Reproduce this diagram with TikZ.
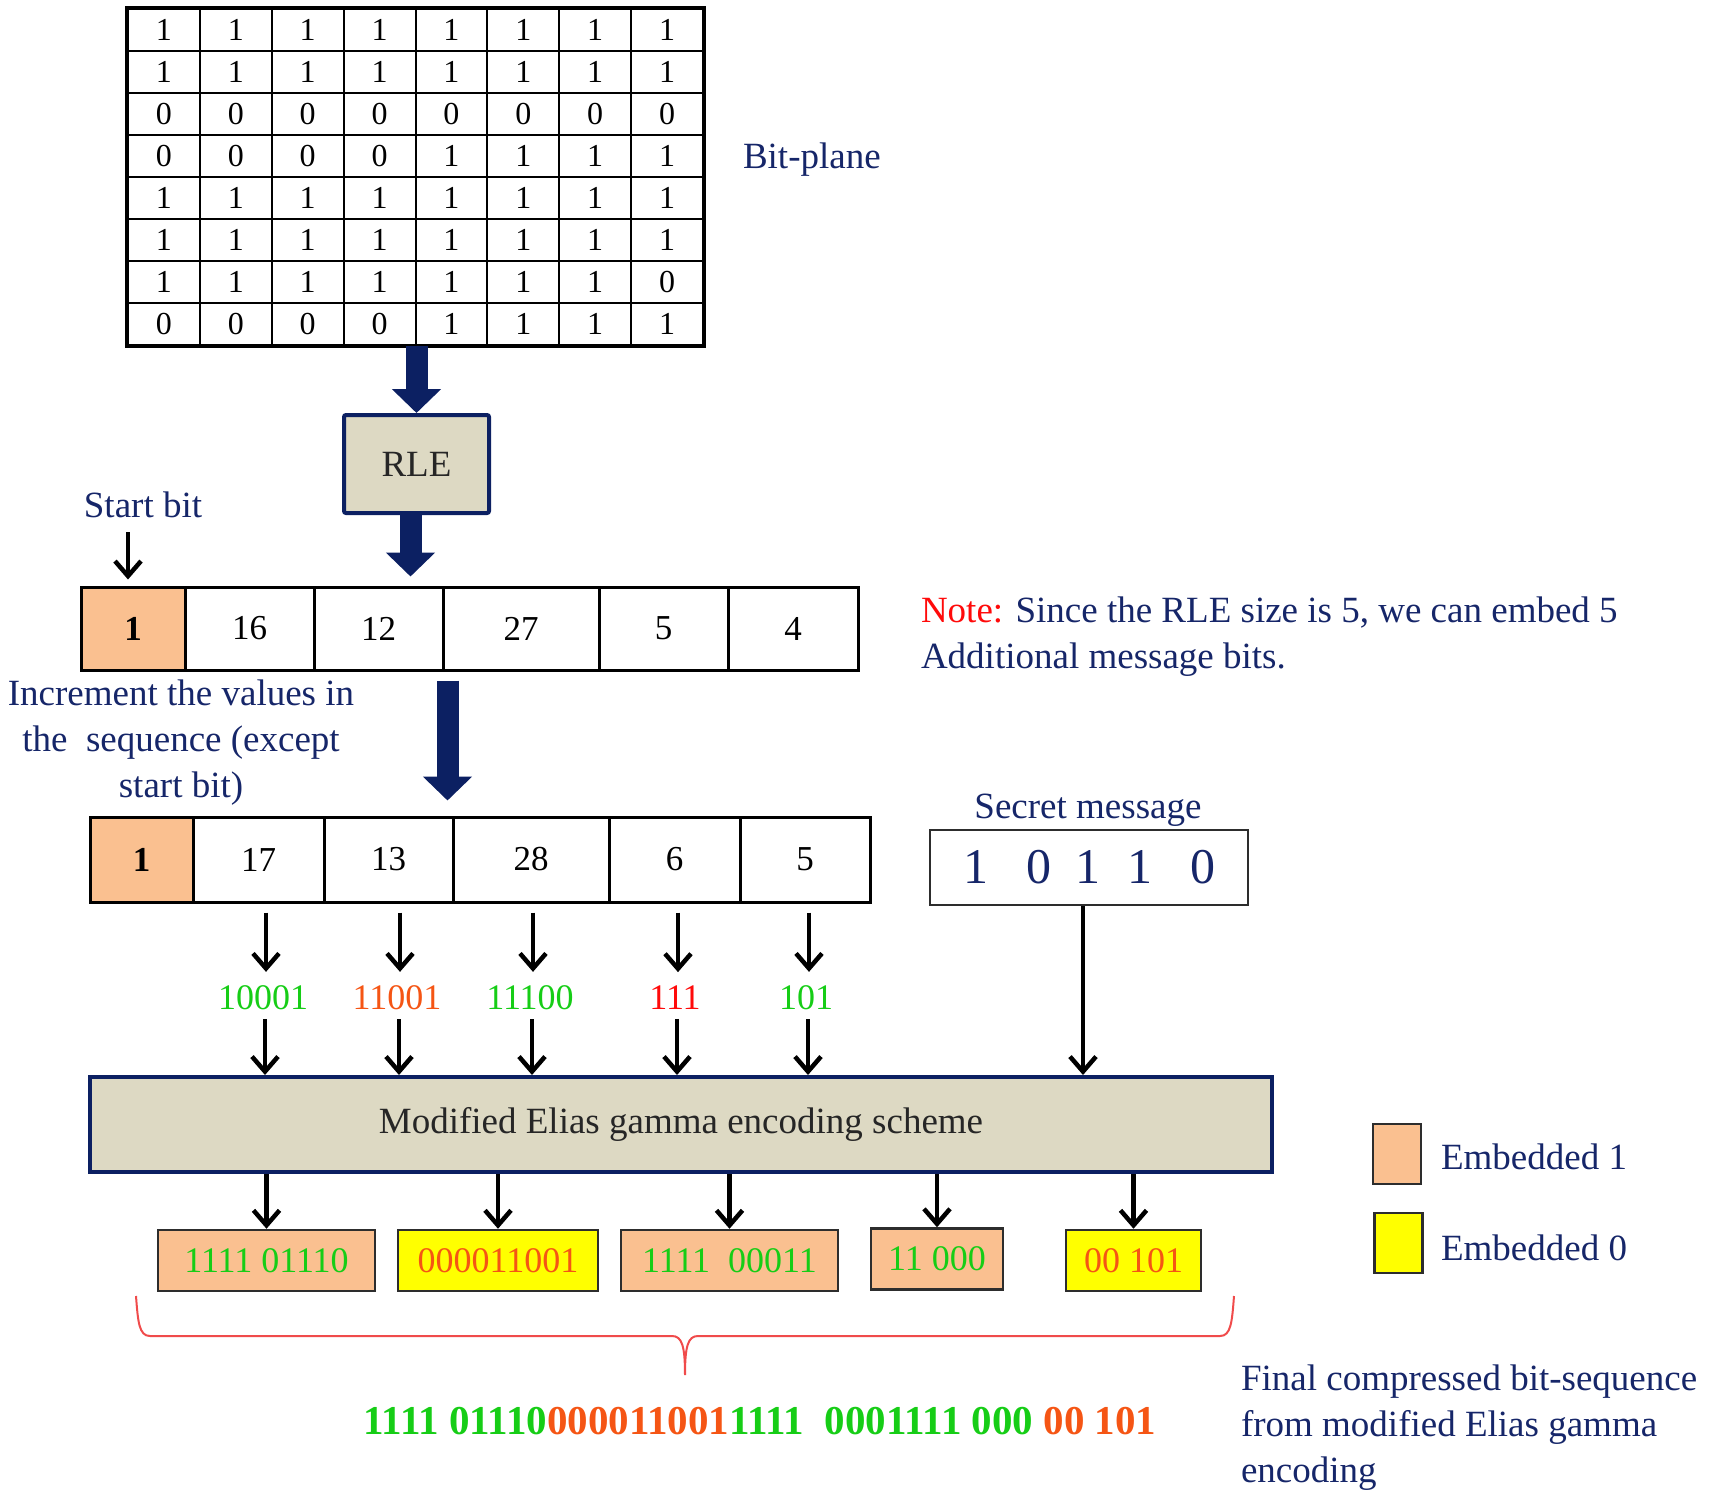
\documentclass[tikz,border=0pt]{standalone}
\usepackage{fontspec}
\setmainfont{Liberation Serif}
\usetikzlibrary{arrows.meta,calc}
\definecolor{navy}{RGB}{12,32,98}
\definecolor{txtblue}{RGB}{22,38,105}
\definecolor{beige}{RGB}{221,217,195}
\definecolor{peach}{RGB}{250,192,144}
\definecolor{yel}{RGB}{255,255,0}
\definecolor{grn}{RGB}{22,205,22}
\definecolor{org}{RGB}{245,85,20}
\definecolor{redtxt}{RGB}{255,10,10}
\definecolor{bracecol}{RGB}{240,75,75}
\definecolor{boxline}{RGB}{45,45,45}
\tikzset{
  txt/.style={inner sep=0pt, outer sep=0pt, text=txtblue, font=\fontsize{37}{46}\selectfont},
  gcell/.style={draw, line width=2pt, minimum width=71.875pt, minimum height=42pt, inner sep=0pt, font=\fontsize{32}{36}\selectfont},
  scell/.style={draw, line width=3pt, inner sep=0pt, font=\fontsize{35}{40}\selectfont},
  procbox/.style={draw=navy, line width=4pt, fill=beige, rounded corners=2pt, inner sep=0pt, text=black!85, font=\fontsize{37}{46}\selectfont},
  bigarrow/.style={draw=navy, line width=22pt, -{Triangle[length=24pt,width=48pt]}},
  blk/.style={draw=black, line width=4.5pt, -{Straight Barb[length=15pt,width=26pt]}},
  bitlbl/.style={inner sep=0pt, outer sep=0pt, font=\fontsize{36}{40}\selectfont},
  outbox/.style={draw=boxline, line width=2.5pt, inner sep=0pt, minimum height=61pt, font=\fontsize{36}{40}\selectfont},
  legbox/.style={draw=boxline, line width=2.5pt, inner sep=0pt, minimum width=48pt, minimum height=60pt}
}
\begin{document}
\begin{tikzpicture}[x=1pt,y=-1pt]
\useasboundingbox (0,0) rectangle (1714,1499);

% bit-plane grid
\foreach \row [count=\r] in {{1,1,1,1,1,1,1,1},{1,1,1,1,1,1,1,1},{0,0,0,0,0,0,0,0},{0,0,0,0,1,1,1,1},{1,1,1,1,1,1,1,1},{1,1,1,1,1,1,1,1},{1,1,1,1,1,1,1,0},{0,0,0,0,1,1,1,1}}{
  \foreach \v [count=\c] in \row {
    \node[gcell] (g-\r-\c) at ({128+71.875*(\c-0.5)},{9+42*(\r-0.5)}) {\v};
  }
}
\draw[line width=4pt] (g-1-1.north west) rectangle (g-8-8.south east);
\node[txt, anchor=west] (bitplane) at (743,160) {Bit-plane};

% RLE
\node[procbox, minimum width=145pt, minimum height=98pt] (rle) at (416.5,464) {RLE};
\draw[bigarrow] (g-8-4.south east) -- (rle.north);

% first sequence
\node[scell, fill=peach, minimum width=104pt, minimum height=83pt] (s1-1) at (133,628.5) {\textbf{1}};
\foreach \l/\rr/\v [count=\i from 2] in {185/314/16,314/443/12,443/599/27,599/728/5,728/858/4}{
  \pgfmathsetmacro\w{\rr-\l}
  \pgfmathsetmacro\xc{(\l+\rr)/2}
  \node[scell, minimum width=\w pt, minimum height=83pt] (s1-\i) at (\xc,628.5) {\v};
}
\draw[bigarrow, shorten >=9pt] ([xshift=-6pt]rle.south) -- ([xshift=-6pt]rle.south |- s1-3.north);

% start bit
\node[txt] (startlbl) at (143,505) {Start bit};
\coordinate (sbtop) at (128,532);
\draw[blk, shorten >=6pt] (sbtop) -- (sbtop |- s1-1.north);

% increment note
\node[txt, align=center] (incr) at (181,743) {Increment the values in\\the\ \ sequence (except\\start bit)};

% second sequence
\node[scell, fill=peach, minimum width=103pt, minimum height=85pt] (s2-1) at (141.5,859.5) {\textbf{1}};
\foreach \l/\rr/\v [count=\i from 2] in {193/324/17,324/453/13,453/609/28,609/740/6,740/870/5}{
  \pgfmathsetmacro\w{\rr-\l}
  \pgfmathsetmacro\xc{(\l+\rr)/2}
  \node[scell, minimum width=\w pt, minimum height=85pt] (s2-\i) at (\xc,859.5) {\v};
}
\draw[bigarrow, shorten <=9pt, shorten >=15pt] ([xshift=6pt]s1-4.south west) -- ([xshift=6pt]s1-4.south west |- s2-4.north);

% RLE-size note
\node[txt, align=left, anchor=west] (note) at (921,637) {\textcolor{redtxt}{Note:} Since the RLE size is 5, we can embed 5\\Additional message bits.};

% secret message
\node[txt] (seclbl) at (1088,810) {Secret message};
\node[draw=boxline, line width=2pt, minimum width=318pt, minimum height=75pt, inner sep=0pt, text=txtblue, font=\fontsize{50}{56}\selectfont] (sec) at (1089,867.5) {1\hspace{38pt}0\hspace{24pt}1\hspace{27pt}1\hspace{38pt}0};

% Elias box
\node[procbox, rounded corners=0pt, minimum width=1182pt, minimum height=95pt] (elias) at (681,1124.5) {Modified Elias gamma encoding scheme};

% binary labels
\node[bitlbl, text=grn] (b2) at (263,998) {10001};
\node[bitlbl, text=org] (b3) at (397,998) {11001};
\node[bitlbl, text=grn] (b4) at (530,998) {11100};
\node[bitlbl, text=redtxt] (b5) at (675,998) {111};
\node[bitlbl, text=grn] (b6) at (806,998) {101};
\foreach \k in {2,...,6}{
  \draw[blk, shorten <=9pt, shorten >=14pt] ([xshift=3pt]b\k.north |- s2-\k.south) -- ([xshift=3pt]b\k.north);
  \draw[blk, shorten <=9pt] ([xshift=2pt]b\k.south) -- ([xshift=2pt]b\k.south |- elias.north);
}
\draw[blk] ([xshift=-6pt]sec.south) -- ([xshift=-6pt]sec.south |- elias.north);

% output boxes
\node[outbox, fill=peach, text=grn, minimum width=217pt] (o1) at (266.5,1260.5) {1111 01110};
\node[outbox, fill=yel, text=org, minimum width=200pt] (o2) at (498,1260.5) {000011001};
\node[outbox, fill=peach, text=grn, minimum width=217pt] (o3) at (729.5,1260.5) {1111\ \ 00011};
\node[outbox, fill=peach, text=grn, minimum width=132pt] (o4) at (937,1259) {11 000};
\node[outbox, fill=yel, text=org, minimum width=135pt] (o5) at (1133.5,1260.5) {00 101};
\foreach \k in {1,...,5}{
  \draw[blk] (o\k.north |- elias.south) -- (o\k.north);
}

% brace
\draw[bracecol, line width=2pt] (136,1296) .. controls (138,1322) and (139,1336) .. (150,1336) -- (672,1336) .. controls (682,1336) and (685,1346) .. (685,1375) .. controls (685,1346) and (688,1336) .. (698,1336) -- (1220,1336) .. controls (1231,1336) and (1232,1322) .. (1234,1296);

% final bit sequence
\node[bitlbl, font=\fontsize{41}{46}\selectfont\bfseries] (final) at (760,1421) {\textcolor{grn}{1111 01110}\textcolor{org}{000011001}\textcolor{grn}{1111\ \ 0001111 000} \textcolor{org}{00 101}};
\node[txt, align=left, anchor=west] (finallbl) at (1241,1428) {Final compressed bit-sequence\\from modified Elias gamma\\encoding};

% legend
\node[legbox, fill=peach] (leg1) at (1397,1154) {};
\node[txt, anchor=west] (leg1t) at (1441,1157) {Embedded 1};
\node[legbox, fill=yel] (leg0) at (1398.5,1243) {};
\node[txt, anchor=west] (leg0t) at (1441,1248) {Embedded 0};
\end{tikzpicture}
\end{document}
